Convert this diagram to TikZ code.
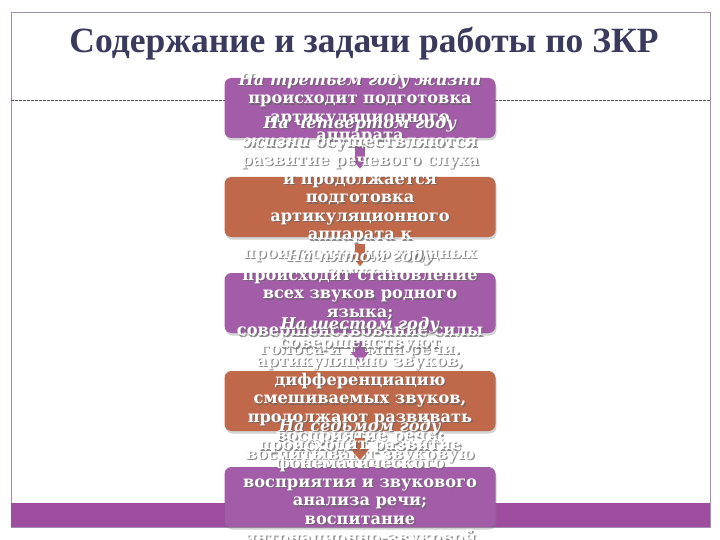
\documentclass[tikz,border=0pt]{standalone}
\usepackage{fontspec}
\setmainfont{DejaVu Serif}
\newfontfamily\titlefont{Liberation Serif}
\usetikzlibrary{shadows,calc}
\definecolor{violetbox}{HTML}{A25CA8}
\definecolor{orangebox}{HTML}{C0694A}
\definecolor{bandcol}{HTML}{9E4C9E}
\definecolor{framecol}{HTML}{A58DAE}
\definecolor{titlecol}{HTML}{3A3A5E}
\definecolor{dashcol}{HTML}{505050}
\newcommand\shadowtext[3]{%
  \node[bshade] (#1s) at ($(#2)+(1.3,1.4)$) {#3};
  \node[btext] (#1) at (#2) {#3};}
\newcommand\downarrowshape[2]{%
  \fill[#2] ($(#1)+(-5,-11)$) -- ($(#1)+(5,-11)$) -- ($(#1)+(5,0)$) -- ($(#1)+(9,0)$)
    -- ($(#1)+(0,11)$) -- ($(#1)+(-9,0)$) -- ($(#1)+(-5,0)$) -- cycle;}
\begin{document}
\begin{tikzpicture}[x=1pt,y=-1pt,
  boxbase/.style={rounded corners=7pt, minimum width=271pt, minimum height=60pt, inner sep=0pt,
    drop shadow={opacity=0.35, shadow xshift=1pt, shadow yshift=-2.5pt}},
  vbox/.style={boxbase, fill=violetbox},
  obox/.style={boxbase, fill=orangebox},
  btext/.style={text=white, font=\bfseries\fontsize{16.2}{18.6}\selectfont, align=center, inner sep=0pt},
  bshade/.style={btext, text=black!60, opacity=0.75},
  varrow/.style={fill=violetbox},
  oarrow/.style={fill=orangebox}]
\useasboundingbox (0,0) rectangle (720,540);
\fill[white] (0,0) rectangle (720,540);
% frame, band, dashed rule
\draw[framecol, line width=0.8pt] (11,12) rectangle (710,527);
\fill[bandcol] (11,503) rectangle (710,527);
\coordinate (dl) at (11,100);
\coordinate (dr) at (710,100);
\draw[dashcol, line width=0.6pt, dash pattern=on 2.5pt off 1.5pt] (dl) -- (dr);
% title
\node[font=\titlefont\bfseries\fontsize{35.5}{40}\selectfont, text=titlecol, inner sep=0pt] (title) at (364,44) {Содержание и задачи работы по ЗКР};
% box 1
\node[vbox] (b1) at (360,108) {};
\shadowtext{t1}{360,108.5}{\textit{На третьем году жизни}\\происходит подготовка\\артикуляционного\\аппарата}
\coordinate (m1) at ($(b1.south)+(0,19.5)$);
\downarrowshape{m1}{varrow}
% box 2
\node[obox] (b2) at (360,207) {};
\shadowtext{t2}{360,198.4}{\textit{На четвертом году}\\\textit{жизни} осуществляются\\развитие речевого слуха\\и продолжается\\подготовка\\артикуляционного\\аппарата к\\произношению трудных\\звуков}
\coordinate (m2) at ($(b2.south)+(0,18)$);
\downarrowshape{m2}{oarrow}
% box 3
\node[vbox] (b3) at (360,303) {};
\shadowtext{t3}{360,303.5}{\textit{На пятом году}\\происходит становление\\всех звуков родного\\языка;\\совершенствование силы\\голоса и темпа речи.}
\coordinate (m3) at ($(b3.south)+(0,19)$);
\downarrowshape{m3}{varrow}
% box 4
\node[obox] (b4) at (360,401) {};
\shadowtext{t4}{360,390}{\textit{На шестом году}\\совершенствуют\\артикуляцию звуков,\\дифференциацию\\смешиваемых звуков,\\продолжают развивать\\восприятие речи;\\воспитывают звуковую}
\coordinate (m4) at ($(b4.south)+(0,18)$);
\downarrowshape{m4}{oarrow}
% box 5
\node[vbox] (b5) at (360,497) {};
\shadowtext{t5}{360,482.8}{\textit{На седьмом году}\\происходит развитие\\фонематического\\восприятия и звукового\\анализа речи;\\воспитание\\интонационно-звуковой}
\end{tikzpicture}
\end{document}
